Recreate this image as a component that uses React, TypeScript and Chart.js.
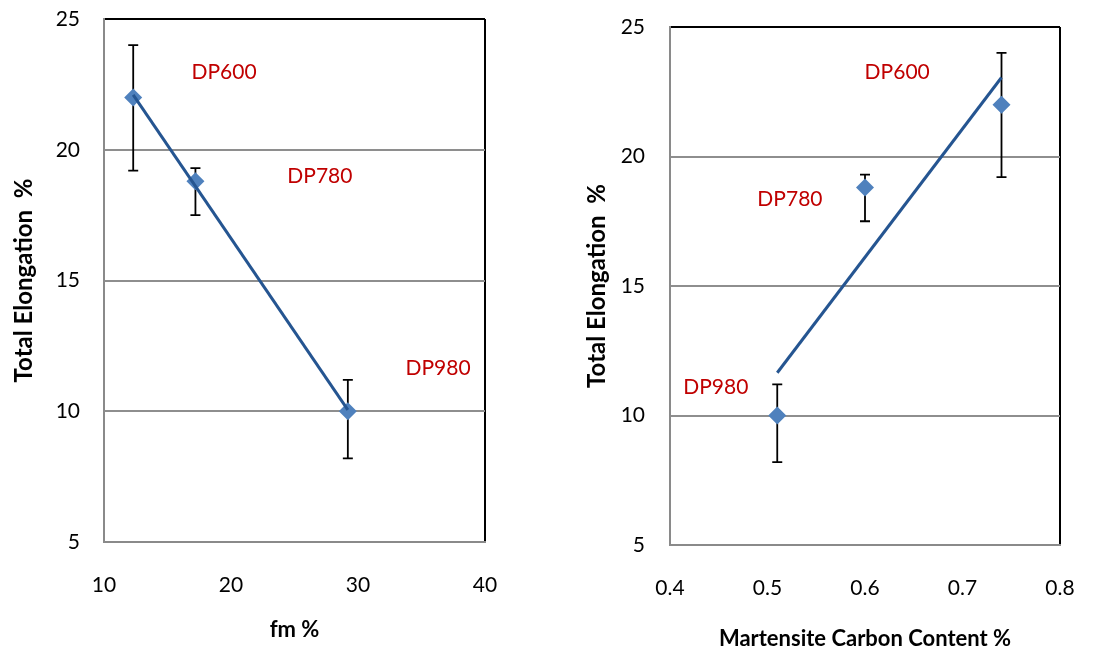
import React, { useEffect, useRef } from 'react';
import { Chart, registerables } from 'chart.js';

Chart.register(...registerables);

// ---- data ----
const grades = ['DP600', 'DP780', 'DP980'];
const martensiteFraction = [12.3, 17.2, 29.2]; // fm %
const martensiteCarbon = [0.74, 0.6, 0.51]; // %
const totalElongation = [22.0, 18.8, 10.0];
const elongationUpper = [24.0, 19.3, 11.2];
const elongationLower = [19.2, 17.5, 8.2];

// linear trendlines (end points)
const fractionTrendX = [12.3, 29.2];
const fractionTrendY = [22.1, 10.05];
const carbonTrendX = [0.51, 0.74];
const carbonTrendY = [11.65, 23.05];

// grade label anchors (data coordinates)
const fractionLabelX = [19.45, 27.0, 36.3];
const fractionLabelY = [22.97, 19.0, 11.65];
const carbonLabelX = [0.633, 0.523, 0.447];
const carbonLabelY = [23.25, 18.35, 11.1];

// axis ticks
const elongationTicks = [5, 10, 15, 20, 25];
const fractionTicks = [10, 20, 30, 40];
const carbonTicks = [0.4, 0.5, 0.6, 0.7, 0.8];

const FONT = 'Lato, "Open Sans", sans-serif';

type Panel = {
  xs: number[];
  xTicks: number[];
  xTitle: string;
  trendX: number[];
  trendY: number[];
  labelX: number[];
  labelY: number[];
  fmt: (v: number) => string;
  yAxisWidth: number;
  xAxisHeight: number;
  padTop: number;
  padRight: number;
  yTitlePad: number;
  xTitlePad: number;
  yTickPad: number;
  xTickPad: number;
};

function zeroPad(s: any) {
  s.paddingTop = 0;
  s.paddingBottom = 0;
  s.paddingLeft = 0;
  s.paddingRight = 0;
}

function makeChart(canvas: HTMLCanvasElement, p: Panel) {
  const xMin = p.xTicks[0];
  const xMax = p.xTicks[p.xTicks.length - 1];
  const yMin = elongationTicks[0];
  const yMax = elongationTicks[elongationTicks.length - 1];

  const overlay = {
    id: 'overlay',
    beforeDatasetsDraw(chart: any) {
      const { ctx } = chart;
      const x = chart.scales.x;
      const y = chart.scales.y;
      ctx.save();
      ctx.strokeStyle = '#000';
      ctx.lineWidth = 1.8;
      p.xs.forEach((v, i) => {
        const px = x.getPixelForValue(v);
        const pt = y.getPixelForValue(elongationUpper[i]);
        const pb = y.getPixelForValue(elongationLower[i]);
        ctx.beginPath();
        ctx.moveTo(px, pt);
        ctx.lineTo(px, pb);
        ctx.moveTo(px - 5, pt);
        ctx.lineTo(px + 5, pt);
        ctx.moveTo(px - 5, pb);
        ctx.lineTo(px + 5, pb);
        ctx.stroke();
      });
      ctx.restore();
    },
    afterDatasetsDraw(chart: any) {
      const { ctx } = chart;
      const x = chart.scales.x;
      const y = chart.scales.y;
      ctx.save();
      ctx.fillStyle = '#C00000';
      ctx.font = '21px ' + FONT;
      ctx.textAlign = 'center';
      ctx.textBaseline = 'middle';
      grades.forEach((g, i) => {
        ctx.fillText(g, x.getPixelForValue(p.labelX[i]), y.getPixelForValue(p.labelY[i]));
      });
      ctx.restore();
    },
  };

  return new Chart(canvas, {
    type: 'scatter',
    data: {
      datasets: [
        {
          type: 'line',
          data: p.trendX.map((v, i) => ({ x: v, y: p.trendY[i] })),
          borderColor: '#255591',
          borderWidth: 3,
          pointRadius: 0,
          fill: false,
          tension: 0,
          order: 0,
        } as any,
        {
          type: 'scatter',
          data: p.xs.map((v, i) => ({ x: v, y: totalElongation[i] })),
          pointStyle: 'rectRot',
          pointRadius: 9,
          backgroundColor: '#4F81BD',
          borderColor: '#4F81BD',
          borderWidth: 0,
          order: 1,
        } as any,
      ],
    },
    options: {
      responsive: false,
      animation: false,
      devicePixelRatio: 1,
      layout: { padding: { top: p.padTop, right: p.padRight, left: 0, bottom: 0 } },
      plugins: { legend: { display: false }, tooltip: { enabled: false } },
      scales: {
        x: {
          type: 'linear',
          min: xMin,
          max: xMax,
          afterBuildTicks: (s: any) => {
            s.ticks = p.xTicks.map((v) => ({ value: v }));
          },
          afterFit: (s: any) => {
            s.height = p.xAxisHeight;
            zeroPad(s);
          },
          grid: {
            drawTicks: false,
            lineWidth: 2,
            color: (c: any) => (c.tick && Math.abs(c.tick.value - xMax) < 1e-9 ? '#000' : 'rgba(0,0,0,0)'),
          },
          border: { color: '#8a8a8a', width: 2 },
          ticks: {
            padding: p.xTickPad,
            color: '#000',
            font: { family: FONT, size: 21 },
            callback: (v: any) => p.fmt(Number(v)),
            maxRotation: 0,
          },
          title: {
            display: true,
            text: p.xTitle,
            color: '#000',
            font: { family: FONT, size: 22, weight: 'bold' },
            padding: { top: 0, bottom: p.xTitlePad },
          },
        },
        y: {
          type: 'linear',
          min: yMin,
          max: yMax,
          afterBuildTicks: (s: any) => {
            s.ticks = elongationTicks.map((v) => ({ value: v }));
          },
          afterFit: (s: any) => {
            s.width = p.yAxisWidth;
            zeroPad(s);
          },
          grid: {
            drawTicks: false,
            lineWidth: 2,
            color: (c: any) => (c.tick && c.tick.value === yMax ? '#000' : '#8e8e8e'),
          },
          border: { color: '#8a8a8a', width: 2 },
          ticks: {
            padding: p.yTickPad,
            color: '#000',
            font: { family: FONT, size: 21 },
          },
          title: {
            display: true,
            text: 'Total Elongation  %',
            color: '#000',
            font: { family: FONT, size: 24, weight: 'bold' },
            padding: { top: p.yTitlePad, bottom: 0 },
          },
        },
      },
    },
    plugins: [overlay],
  } as any);
}

const leftPanel: Panel = {
  xs: martensiteFraction,
  xTicks: fractionTicks,
  xTitle: 'fm %',
  trendX: fractionTrendX,
  trendY: fractionTrendY,
  labelX: fractionLabelX,
  labelY: fractionLabelY,
  fmt: (v) => String(Math.round(v)),
  yAxisWidth: 104,
  xAxisHeight: 110,
  padTop: 19,
  padRight: 71,
  yTitlePad: 10,
  xTitlePad: 9,
  yTickPad: 24,
  xTickPad: 31,
};

const rightPanel: Panel = {
  xs: martensiteCarbon,
  xTicks: carbonTicks,
  xTitle: 'Martensite Carbon Content %',
  trendX: carbonTrendX,
  trendY: carbonTrendY,
  labelX: carbonLabelX,
  labelY: carbonLabelY,
  fmt: (v) => v.toFixed(1),
  yAxisWidth: 114,
  xAxisHeight: 107,
  padTop: 27,
  padRight: 53,
  yTitlePad: 27,
  xTitlePad: 0,
  yTickPad: 25,
  xTickPad: 31,
};

export default function App() {
  const leftRef = useRef<HTMLCanvasElement>(null);
  const rightRef = useRef<HTMLCanvasElement>(null);

  useEffect(() => {
    const a = makeChart(leftRef.current as HTMLCanvasElement, leftPanel);
    const b = makeChart(rightRef.current as HTMLCanvasElement, rightPanel);
    return () => {
      a.destroy();
      b.destroy();
    };
  }, []);

  return (
    <div style={{ position: 'fixed', left: 0, top: 0, width: 1113, height: 652, background: '#fff' }}>
      <canvas
        ref={leftRef}
        width={556}
        height={652}
        style={{ position: 'absolute', left: 0, top: 0, width: 556, height: 652, display: 'block' }}
      />
      <canvas
        ref={rightRef}
        width={557}
        height={652}
        style={{ position: 'absolute', left: 556, top: 0, width: 557, height: 652, display: 'block' }}
      />
    </div>
  );
}
